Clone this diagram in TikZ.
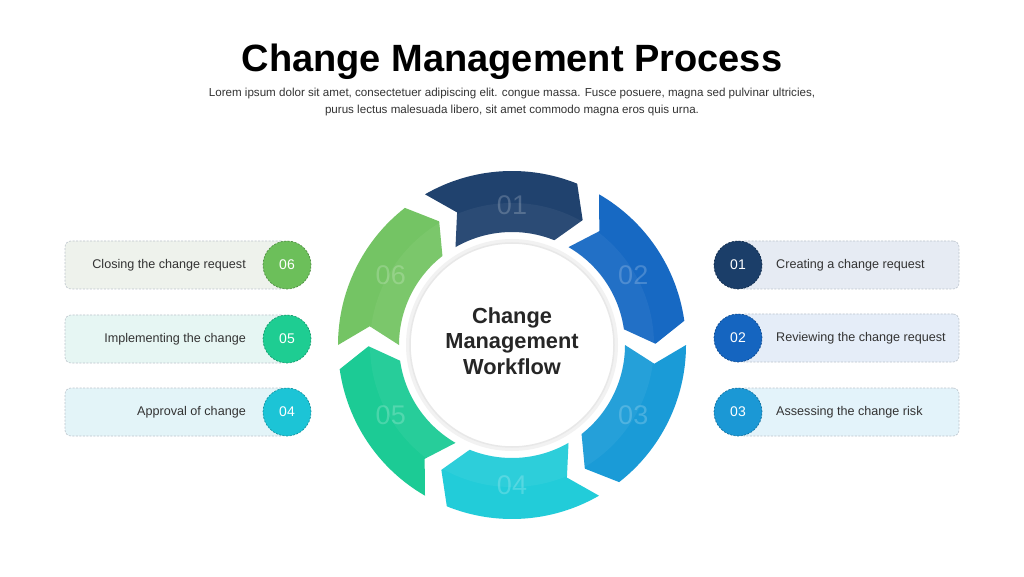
\documentclass[tikz,border=0pt]{standalone}
\usepackage{fontspec}
\setmainfont{Liberation Sans}
\definecolor{cA}{HTML}{20426E}
\definecolor{cB}{HTML}{1769C3}
\definecolor{cC}{HTML}{1A9BD7}
\definecolor{cD}{HTML}{22CCD9}
\definecolor{cE}{HTML}{1CCB95}
\definecolor{cF}{HTML}{74C464}
\definecolor{bA}{HTML}{1B3E69}
\definecolor{bB}{HTML}{1565C0}
\definecolor{bC}{HTML}{1B98D5}
\definecolor{bD}{HTML}{1CC4D6}
\definecolor{bE}{HTML}{1ECD92}
\definecolor{bF}{HTML}{6CBF5A}
\definecolor{fA}{HTML}{E6EBF3}
\definecolor{fB}{HTML}{E5EDF8}
\definecolor{fC}{HTML}{E3F3FA}
\definecolor{fD}{HTML}{E3F4F8}
\definecolor{fE}{HTML}{E6F6F3}
\definecolor{fF}{HTML}{EEF2EC}
\definecolor{boxline}{HTML}{BCC4CC}
\definecolor{txt}{HTML}{333333}
\begin{document}
\begin{tikzpicture}[x=1pt,y=1pt,
  infobox/.style={draw=boxline, dash pattern=on 2pt off 1.5pt, rounded corners=6pt, line width=0.6pt, minimum height=48pt, inner sep=0pt},
  badge/.style={circle, minimum size=48pt, inner sep=0pt, text=white, font=\fontsize{14}{16}\selectfont, line width=0.7pt, dash pattern=on 2pt off 1.5pt},
  segnum/.style={text=white, text opacity=0.2, font=\fontsize{27}{30}\selectfont, inner sep=0pt},
  ltext/.style={anchor=east, text=txt, font=\fontsize{12.6}{15}\selectfont, inner sep=0pt},
  rtext/.style={anchor=west, text=txt, font=\fontsize{12.6}{15}\selectfont, inner sep=0pt}]
\useasboundingbox (0,0) rectangle (1024,576);
\fill[white] (0,0) rectangle (1024,576);

% title
\node[font=\fontsize{38}{44}\bfseries\selectfont, text=black, inner sep=0pt] (title) at (512,514) {Change Management Process};
\node[font=\fontsize{11.6}{17}\selectfont, text=txt, align=center, inner sep=0pt] (sub) at (512,473.5)
  {Lorem ipsum dolor sit amet, consectetuer adipiscing elit. congue massa. Fusce posuere, magna sed pulvinar ultricies,\\
   purus lectus malesuada libero, sit amet commodo magna eros quis urna.};

% ring
\begin{scope}[shift={(512,231)}]
\foreach \k/\col/\lab in {0/cA/01,1/cB/02,2/cC/03,3/cD/04,4/cE/05,5/cF/06}{
  \pgfmathsetmacro\s{120-60*\k}
  \pgfmathsetmacro\e{\s-52}
  \pgfmathsetmacro\t{\e-7.5}
  \pgfmathsetmacro\n{\s-7.5}
  \pgfmathsetmacro\m{90-60*\k}
  \fill[\col] (\s:174pt) arc[start angle=\s, end angle=\e, radius=174pt] -- (\t:143.5pt) -- (\e:113pt)
     arc[start angle=\e, end angle=\s, radius=113pt] -- (\n:143.5pt) -- cycle;
  \begin{scope}
    \clip (\s:174pt) arc[start angle=\s, end angle=\e, radius=174pt] -- (\t:143.5pt) -- (\e:113pt)
     arc[start angle=\e, end angle=\s, radius=113pt] -- (\n:143.5pt) -- cycle;
    \fill[white, opacity=0.05, even odd rule] (0,0) circle (142pt) (0,0) circle (100pt);
  \end{scope}
  \node[segnum] (seg\lab) at (\m:140pt) {\lab};
}
\fill[black!5] (0,0) circle (106pt);
\node[circle, fill=white, draw=black!9, line width=1.5pt, minimum size=204pt, inner sep=0pt] (hub) at (0,0) {};
\node[font=\fontsize{21.8}{25.5}\bfseries\selectfont, text=black!85, align=center, inner sep=0pt] (hubtext) at (0,4) {Change\\Management\\Workflow};
\end{scope}

% left boxes
\node[infobox, fill=fF, minimum width=222pt] (box6) at (176,311) {};
\node[infobox, fill=fE, minimum width=222pt] (box5) at (176,237) {};
\node[infobox, fill=fD, minimum width=222pt] (box4) at (176,164) {};
\node[badge, fill=bF, draw=bF!75!black] (bad6) at (287,311) {06};
\node[badge, fill=bE, draw=bE!75!black] (bad5) at (287,237) {05};
\node[badge, fill=bD, draw=bD!75!black] (bad4) at (287,164) {04};
\node[ltext] (t6) at (246,311) {Closing the change request};
\node[ltext] (t5) at (246,237) {Implementing the change};
\node[ltext] (t4) at (246,164) {Approval of change};

% right boxes
\node[infobox, fill=fA, minimum width=221pt] (box1) at (848.5,311) {};
\node[infobox, fill=fB, minimum width=221pt] (box2) at (848.5,238) {};
\node[infobox, fill=fC, minimum width=221pt] (box3) at (848.5,164) {};
\node[badge, fill=bA, draw=bA!75!black] (bad1) at (738,311) {01};
\node[badge, fill=bB, draw=bB!75!black] (bad2) at (738,238) {02};
\node[badge, fill=bC, draw=bC!75!black] (bad3) at (738,164) {03};
\node[rtext] (t1) at (776,311) {Creating a change request};
\node[rtext] (t2) at (776,238) {Reviewing the change request};
\node[rtext] (t3) at (776,164) {Assessing the change risk};
\end{tikzpicture}
\end{document}
